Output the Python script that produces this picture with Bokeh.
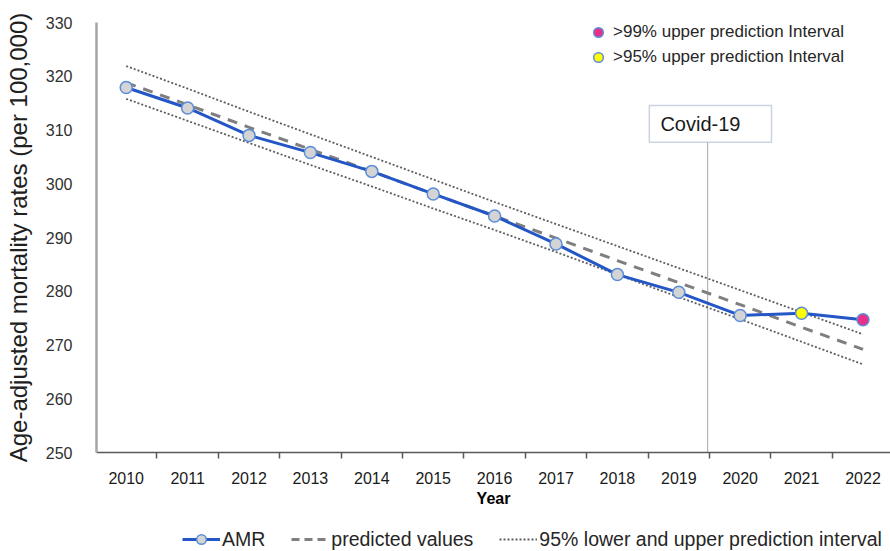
from bokeh.plotting import figure
from bokeh.layouts import column
from bokeh.models import (Range1d, FixedTicker, Legend, LegendItem, BoxAnnotation, Label)
from bokeh.embed import file_html
from bokeh.resources import INLINE

# ---- data ----
years = [2010, 2011, 2012, 2013, 2014, 2015, 2016, 2017, 2018, 2019, 2020, 2021, 2022]
amr = [317.9, 314.1, 309.0, 305.8, 302.3, 298.1, 294.0, 288.8, 283.1, 279.8, 275.5, 275.9, 274.7]
predicted = [318.8, 314.7, 310.5, 306.4, 302.3, 298.1, 294.0, 289.9, 285.7, 281.6, 277.5, 273.3, 269.2]
upper_pi = [321.9, 317.7, 313.4, 309.2, 305.0, 300.8, 296.6, 292.5, 288.4, 284.3, 280.2, 276.1, 272.0]
lower_pi = [315.8, 311.7, 307.6, 303.5, 299.5, 295.4, 291.4, 287.3, 283.1, 278.9, 274.8, 270.6, 266.4]
normal_years = years[:11]
normal_amr = amr[:11]
above95_year = [2021]
above95_amr = [275.9]
above99_year = [2022]
above99_amr = [274.7]
y_ticks = [250, 260, 270, 280, 290, 300, 310, 320, 330]
x_boundaries = [2009.5, 2010.5, 2011.5, 2012.5, 2013.5, 2014.5, 2015.5, 2016.5,
                2017.5, 2018.5, 2019.5, 2020.5, 2021.5, 2022.5]
covid_x = 2019.47
covid_label = "Covid-19"

FONT = "Liberation Sans"
BLUE = "#2457C5"
MARK_EDGE = "#5B8DD9"
LEFT = 96

p = figure(width=890, height=512, output_backend="svg", toolbar_location=None,
           title=None,
           x_range=Range1d(2009.516, 2022.448), y_range=Range1d(250, 330),
           min_border_left=LEFT, min_border_right=0, min_border_top=22, min_border_bottom=60)
p.outline_line_color = None
p.xgrid.visible = False
p.ygrid.visible = False

# y axis
p.yaxis.ticker = FixedTicker(ticks=y_ticks)
p.yaxis.axis_line_color = "#A6A6A6"
p.yaxis.axis_line_width = 2.5
p.yaxis.major_tick_line_color = None
p.yaxis.minor_tick_line_color = None
p.yaxis.major_label_standoff = 18
p.yaxis.major_label_text_font = FONT
p.yaxis.major_label_text_font_size = "16px"
p.yaxis.major_label_text_color = "#303030"
p.yaxis.axis_label = "Age-adjusted mortality rates (per 100,000)"
p.yaxis.axis_label_text_font = FONT
p.yaxis.axis_label_text_font_size = "24px"
p.yaxis.axis_label_text_font_style = "normal"
p.yaxis.axis_label_text_color = "#202020"
p.yaxis.axis_label_standoff = 11

# x axis
p.xaxis.ticker = FixedTicker(ticks=years, minor_ticks=x_boundaries)
p.xaxis.axis_line_color = "#595959"
p.xaxis.axis_line_width = 1.5
p.xaxis.major_tick_out = 0
p.xaxis.major_tick_in = 0
p.xaxis.major_tick_line_color = None
p.xaxis.minor_tick_out = 6
p.xaxis.minor_tick_in = 0
p.xaxis.minor_tick_line_color = "#595959"
p.xaxis.minor_tick_line_width = 1.5
p.xaxis.major_label_standoff = 13
p.xaxis.major_label_text_font = FONT
p.xaxis.major_label_text_font_size = "16px"
p.xaxis.major_label_text_color = "#1A1A1A"
p.xaxis.axis_label = "Year"
p.xaxis.axis_label_text_font = FONT
p.xaxis.axis_label_text_font_size = "16px"
p.xaxis.axis_label_text_font_style = "bold"
p.xaxis.axis_label_text_color = "#000000"
p.xaxis.axis_label_standoff = 3

# covid marker line
p.segment(x0=[covid_x], y0=[250], x1=[covid_x], y1=[307.7], line_color="#A6A6A6", line_width=1)

# prediction interval + predicted
p.line(years, upper_pi, line_color="#5E5E5E", line_width=1.8, line_dash="2 2")
p.line(years, lower_pi, line_color="#5E5E5E", line_width=1.8, line_dash="2 2")
p.line(years, predicted, line_color="#7F7F7F", line_width=3, line_dash="10 8")

# AMR
p.line(years, amr, line_color=BLUE, line_width=3)
p.scatter(normal_years, normal_amr, size=12, fill_color="#D4D4D4",
          line_color=MARK_EDGE, line_width=1.5)
r95 = p.scatter(above95_year, above95_amr, size=12, fill_color="#FFFF00",
                line_color=MARK_EDGE, line_width=1.5)
r99 = p.scatter(above99_year, above99_amr, size=12, fill_color="#E8308A",
                line_color=MARK_EDGE, line_width=1.5)

# Covid box
box = BoxAnnotation(left=2018.52, right=2020.51, bottom=307.7, top=314.56,
                    fill_color="white", fill_alpha=1.0, line_color="#4F6D9A", line_width=1.5)
p.add_layout(box)
p.add_layout(Label(x=2018.70, y=311.13, text=covid_label, text_align="left",
                   text_baseline="middle", text_font=FONT, text_font_size="20px",
                   text_color="#1A1A1A"))

# top-right legend (inside the frame)
top_leg = Legend(items=[LegendItem(label=">99% upper prediction Interval", renderers=[r99]),
                        LegendItem(label=">95% upper prediction Interval", renderers=[r95])],
                 location=(489, 383), orientation="vertical",
                 glyph_width=26, glyph_height=24, label_height=24, spacing=1,
                 label_standoff=2, padding=0, margin=0,
                 border_line_alpha=0, background_fill_alpha=0,
                 label_text_font=FONT, label_text_font_size="17px",
                 label_text_color="#262626")
p.add_layout(top_leg)

# bottom legend strip: a second figure holding only the legend
lf = figure(width=890, height=39, output_backend="svg", toolbar_location=None, title=None,
            x_range=Range1d(0, 1), y_range=Range1d(0, 1),
            min_border_left=LEFT, min_border_right=0, min_border_top=0, min_border_bottom=0)
lf.axis.visible = False
lf.grid.visible = False
lf.outline_line_color = None
d_amr = lf.line([-5, -4], [-5, -4], line_color=BLUE, line_width=3)
d_pts = lf.scatter([-5], [-5], fill_color="#D4D4D4", line_color=MARK_EDGE, line_width=1.5)
d_pred = lf.line([-5, -4], [-5, -4], line_color="#7F7F7F", line_width=3, line_dash="8 5")
d_pi = lf.line([-5, -4], [-5, -4], line_color="#5E5E5E", line_width=1.8, line_dash="2 2")
bot_leg = Legend(items=[LegendItem(label="AMR", renderers=[d_amr, d_pts]),
                        LegendItem(label="predicted values", renderers=[d_pred]),
                        LegendItem(label="95% lower and upper prediction interval", renderers=[d_pi])],
                 location=(86, 0), orientation="horizontal",
                 glyph_width=38, glyph_height=24, label_height=24, spacing=26,
                 label_standoff=2, padding=0, margin=0,
                 border_line_alpha=0, background_fill_alpha=0,
                 label_text_font=FONT, label_text_font_size="19.5px",
                 label_text_color="#262626")
lf.add_layout(bot_leg)

layout = column(p, lf, spacing=0)
open("out.html", "w").write(file_html(layout, INLINE))
